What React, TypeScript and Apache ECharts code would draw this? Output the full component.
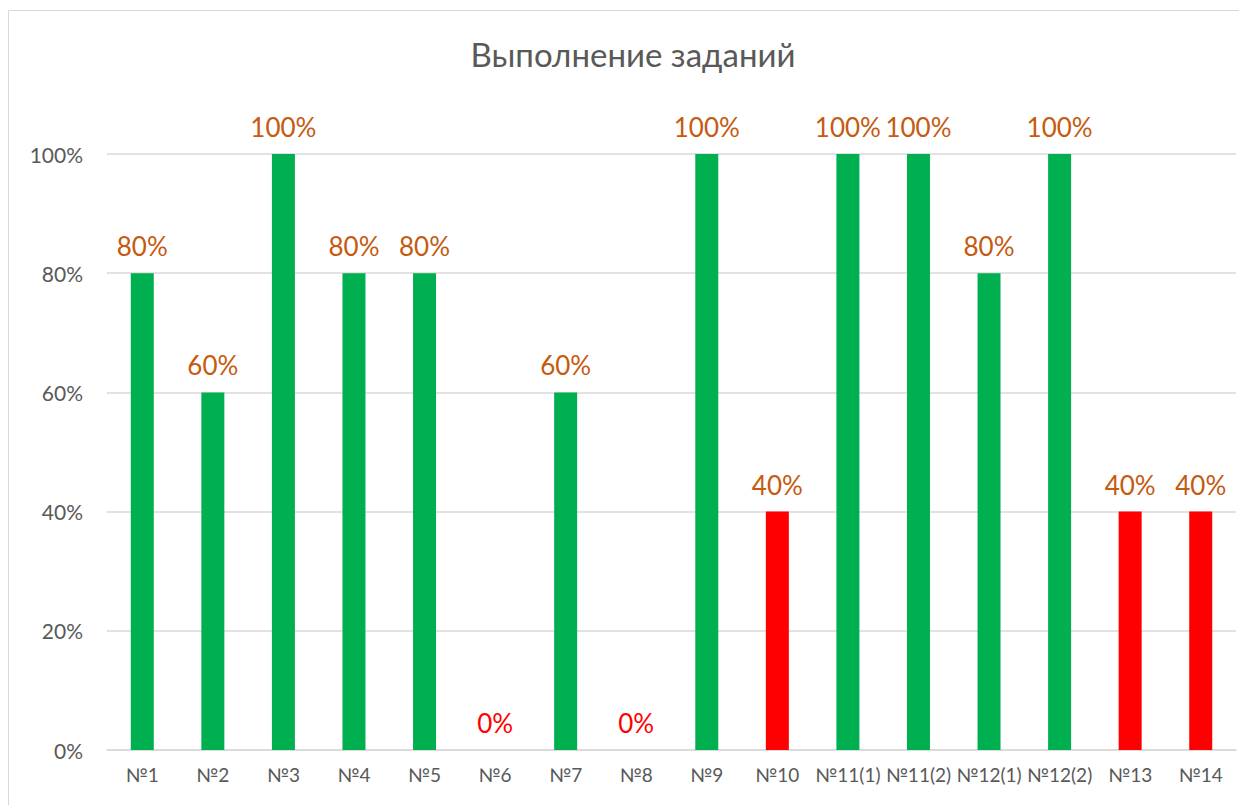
import React, { useEffect, useRef } from "react";
import * as echarts from "echarts";

const categories = ["№1", "№2", "№3", "№4", "№5", "№6", "№7", "№8", "№9", "№10", "№11(1)", "№11(2)", "№12(1)", "№12(2)", "№13", "№14"];
const values = [80, 60, 100, 80, 80, 0, 60, 0, 100, 40, 100, 100, 80, 100, 40, 40];
const barColors = ["green", "green", "green", "green", "green", "red", "green", "red", "green", "red", "green", "green", "green", "green", "red", "red"];
const yTicks = [0, 20, 40, 60, 80, 100];

const FONT = "Lato, 'Open Sans', sans-serif";

export default function App() {
  const ref = useRef<HTMLDivElement>(null);
  useEffect(() => {
    if (!ref.current) return;
    const chart = echarts.init(ref.current, undefined, { renderer: "svg" });
    const data = values.map((v, i) => ({
      value: v,
      itemStyle: { color: barColors[i] === "green" ? "#00B050" : "#FF0000" },
      label: { color: v === 0 ? "#FF0000" : "#C55A11" },
    }));
    chart.setOption({
      animation: false,
      textStyle: { fontFamily: FONT },
      title: {
        text: "Выполнение заданий",
        left: 620,
        top: 24,
        textAlign: "center",
        textStyle: { fontFamily: FONT, fontSize: 33, fontWeight: "normal", color: "#595959" },
      },
      graphic: [
        {
          type: "rect",
          shape: { x: 0.5, y: 2.5, width: 1260, height: 820 },
          style: { fill: "none", stroke: "#D9D9D9", lineWidth: 1 },
          silent: true,
        },
      ],
      grid: { left: 99, right: 11, top: 146, bottom: 55, containLabel: false },
      xAxis: {
        type: "category",
        data: categories,
        axisLine: { lineStyle: { color: "#D9D9D9", width: 1.5 } },
        axisTick: { show: false },
        axisLabel: { color: "#595959", fontSize: 19, fontFamily: FONT, margin: 15, interval: 0 },
      },
      yAxis: {
        type: "value",
        min: 0,
        max: 100,
        interval: 20,
        axisLine: { show: false },
        axisTick: { show: false },
        splitLine: { lineStyle: { color: "#D9D9D9", width: 1.5 } },
        axisLabel: {
          color: "#595959",
          fontSize: 21,
          fontFamily: FONT,
          margin: 24,
          formatter: (v: number) => (yTicks.includes(v) ? v + "%" : ""),
        },
      },
      series: [
        {
          type: "bar",
          data,
          barWidth: 23,
          label: {
            show: true,
            position: "top",
            distance: 14,
            fontSize: 26,
            fontFamily: FONT,
            formatter: (p: any) => p.value + "%",
          },
        },
      ],
    });
    return () => chart.dispose();
  }, []);
  return <div ref={ref} style={{ width: 1239, height: 797 }} />;
}
